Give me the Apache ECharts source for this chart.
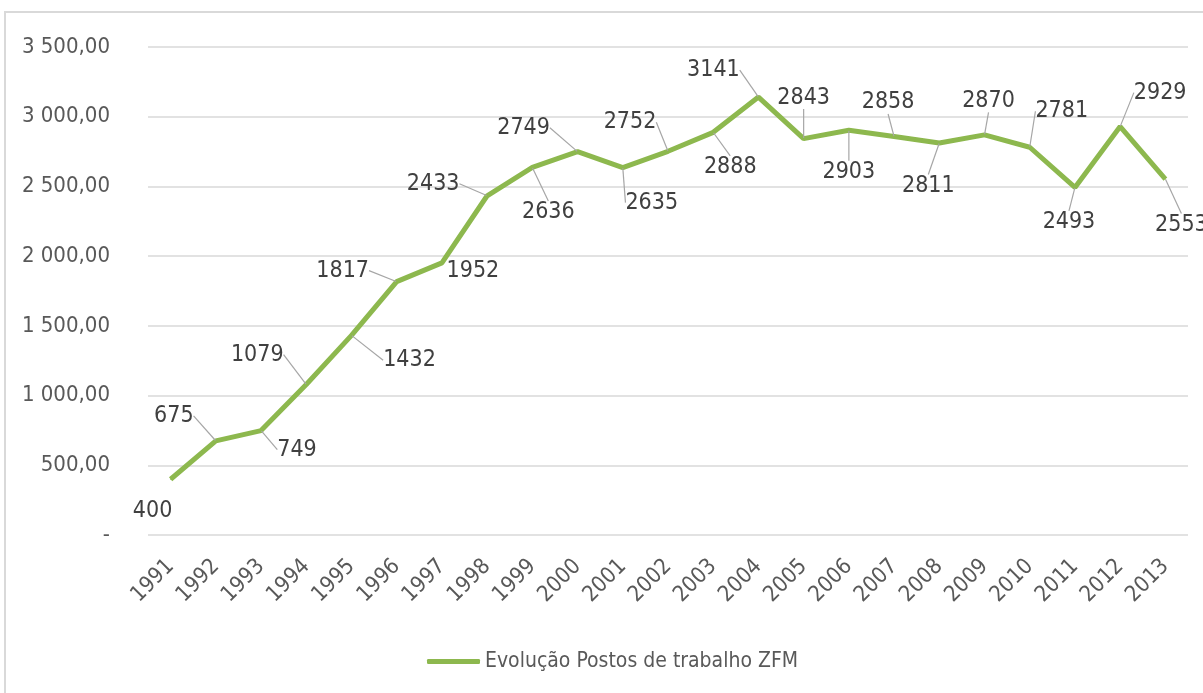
<!DOCTYPE html>
<html>
<head>
<meta charset="utf-8">
<script src="https://cdn.jsdelivr.net/npm/echarts@6/dist/echarts.min.js"></script>
<style>
  html, body { margin: 0; padding: 0; background: #fff; }
  #main { width: 1203px; height: 693px; }
</style>
</head>
<body>
<div id="main"></div>
<script>
// dados
var years = ['1991','1992','1993','1994','1995','1996','1997','1998','1999','2000','2001','2002',
  '2003','2004','2005','2006','2007','2008','2009','2010','2011','2012','2013'];
var postos = [400, 675, 749, 1079, 1432, 1817, 1952, 2433, 2636, 2749, 2635, 2752,
  2888, 3141, 2843, 2903, 2858, 2811, 2870, 2781, 2493, 2929, 2553];
var seriesName = 'Evolução Postos de trabalho ZFM';

// deslocamento de cada rótulo em relação ao ponto (px)
var labelOffsets = [[-18, 32], [-42, -25], [36, 19], [-49, -30], [58, 25], [-54, -11], [31, 8],
  [-54, -12], [16, 45], [-54, -24], [29, 35], [-38, -29], [17, 35], [-45, -27], [0, -41],
  [0, 42], [-6, -34], [-11, 43], [4, -34], [32, -36], [-6, 35], [40, -34], [16, 46]];
// rótulos sem linha de chamada
var noLeader = ['1991', '1997'];

var fmt = function (v) {
  if (v === 0) return '-';
  var s = String(Math.round(v));
  s = s.replace(/\B(?=(\d{3})+(?!\d))/g, ' ');
  return s + ',00';
};

var seriesData = postos.map(function (v, i) {
  var d = { value: v };
  if (noLeader.indexOf(years[i]) >= 0) d.labelLine = { show: false };
  return d;
});

var myChart = echarts.init(document.getElementById('main'));
myChart.setOption({
  animation: false,
  textStyle: { fontFamily: '"Liberation Sans Narrow", "DejaVu Sans Condensed", sans-serif' },
  graphic: [{
    type: 'rect',
    shape: { x: 5, y: 12, width: 1400, height: 900 },
    style: { fill: 'none', stroke: '#D9D9D9', lineWidth: 2 },
    silent: true
  }],
  grid: { left: 148, right: 15, top: 47, bottom: 158 },
  legend: {
    left: 422, top: 646,
    icon: 'roundRect',
    itemWidth: 53, itemHeight: 5, itemGap: 10,
    textStyle: { fontSize: 21, color: '#595959', padding: [0, 0, 0, 0] },
    data: [seriesName]
  },
  xAxis: {
    type: 'category',
    data: years,
    axisLine: { show: false },
    axisTick: { show: false },
    axisLabel: { rotate: 45, fontSize: 22, color: '#595959', margin: 28, interval: 0 }
  },
  yAxis: {
    type: 'value',
    min: 0, max: 3500, interval: 500,
    axisLine: { show: false },
    axisTick: { show: false },
    splitLine: { lineStyle: { color: '#D9D9D9', width: 1.5 } },
    axisLabel: { fontSize: 22, color: '#595959', margin: 38, formatter: fmt }
  },
  series: [{
    name: seriesName,
    type: 'line',
    data: seriesData,
    symbol: 'circle',
    symbolSize: 1,
    showSymbol: true,
    lineStyle: { color: '#8DB84E', width: 5 },
    itemStyle: { color: '#8DB84E' },
    label: { show: true, position: 'inside', fontSize: 23, color: '#404040' },
    labelLayout: function (p) {
      var o = labelOffsets[p.dataIndex];
      return { dx: o[0], dy: o[1] };
    },
    labelLine: { show: true, lineStyle: { color: '#A6A6A6', width: 1.2 } }
  }]
});
</script>
</body>
</html>
